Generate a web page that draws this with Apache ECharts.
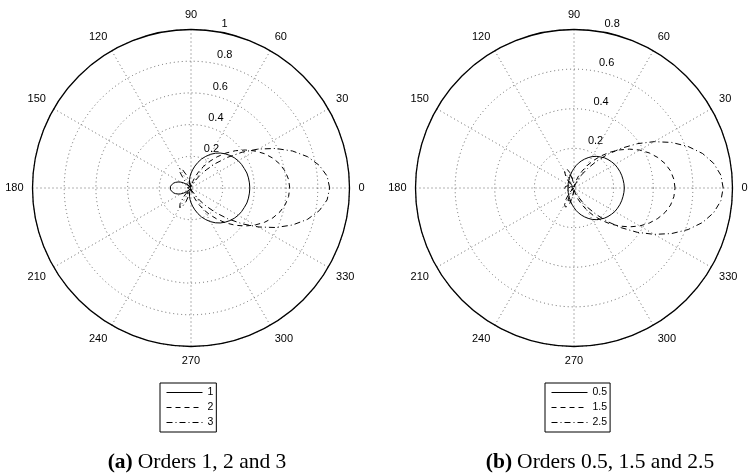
<!DOCTYPE html>
<html><head><meta charset="utf-8">
<script src="https://cdn.jsdelivr.net/npm/echarts@6/dist/echarts.min.js"></script>
<style>html,body{margin:0;padding:0;background:#fff}#c{width:748px;height:474px}</style>
</head><body><div id="c"></div>
<script>
// angle (degrees) of every sample
const ANGLES = [0,5,10,15,20,25,30,35,40,45,50,55,60,65,70,75,80,85,90,95,100,105,110,115,120,125,130,135,140,145,150,155,160,165,170,175,180,
  185,190,195,200,205,210,215,220,225,230,235,240,245,250,255,260,265,270,275,280,285,290,295,300,305,310,315,320,325,330,335,340,345,350,355,360];

// (a) orders 1, 2, 3
const ORDERS_A = ['1','2','3'];
const A_ORDER1 = [0.371,0.370,0.368,0.365,0.358,0.352,0.344,0.333,0.320,0.305,0.288,0.268,0.245,0.220,0.195,0.167,0.140,0.115,0.093,0.072,0.053,0.036,0.022,0.011,0.004,0.002,0.008,0.020,0.036,0.055,0.074,0.090,0.104,0.116,0.125,0.130,0.132,
  0.130,0.125,0.116,0.104,0.090,0.074,0.055,0.036,0.020,0.008,0.002,0.004,0.011,0.022,0.036,0.053,0.072,0.093,0.115,0.140,0.167,0.195,0.220,0.245,0.268,0.288,0.305,0.320,0.333,0.344,0.352,0.358,0.365,0.368,0.370,0.371];
const A_ORDER2 = [0.623,0.618,0.604,0.581,0.550,0.512,0.467,0.418,0.366,0.312,0.257,0.205,0.156,0.111,0.073,0.042,0.019,0.006,0.002,0.006,0.014,0.024,0.034,0.040,0.042,0.038,0.030,0.020,0.010,0.004,0.002,0.004,0.010,0.016,0.020,0.023,0.024,
  0.023,0.020,0.016,0.010,0.004,0.002,0.004,0.010,0.020,0.030,0.038,0.042,0.040,0.034,0.024,0.014,0.006,0.002,0.006,0.019,0.042,0.073,0.111,0.156,0.205,0.257,0.312,0.366,0.418,0.467,0.512,0.550,0.581,0.604,0.618,0.623];
const A_ORDER3 = [0.875,0.862,0.822,0.762,0.682,0.590,0.492,0.394,0.301,0.219,0.149,0.095,0.055,0.028,0.012,0.004,0.002,0.000,0.002,0.004,0.010,0.040,0.090,0.130,0.142,0.120,0.070,0.025,0.004,0.002,0.006,0.012,0.018,0.022,0.025,0.027,0.028,
  0.027,0.025,0.022,0.018,0.012,0.006,0.002,0.004,0.025,0.070,0.120,0.142,0.130,0.090,0.040,0.010,0.004,0.002,0.000,0.002,0.004,0.012,0.028,0.055,0.095,0.149,0.219,0.301,0.394,0.492,0.590,0.682,0.762,0.822,0.862,0.875];

// (b) orders 0.5, 1.5, 2.5
const ORDERS_B = ['0.5','1.5','2.5'];
const B_ORDER05 = [0.254,0.253,0.251,0.249,0.246,0.242,0.238,0.231,0.224,0.216,0.205,0.195,0.183,0.169,0.155,0.141,0.127,0.113,0.099,0.088,0.077,0.068,0.061,0.055,0.050,0.046,0.043,0.040,0.038,0.036,0.034,0.033,0.032,0.031,0.030,0.030,0.030,
  0.030,0.030,0.031,0.032,0.033,0.034,0.036,0.038,0.040,0.043,0.046,0.050,0.055,0.061,0.068,0.077,0.088,0.099,0.113,0.127,0.141,0.155,0.169,0.183,0.195,0.205,0.216,0.224,0.231,0.238,0.242,0.246,0.249,0.251,0.253,0.254];
const B_ORDER15 = [0.510,0.506,0.495,0.476,0.450,0.419,0.383,0.342,0.299,0.255,0.211,0.168,0.128,0.091,0.060,0.034,0.015,0.004,0.002,0.015,0.045,0.080,0.100,0.105,0.095,0.072,0.045,0.022,0.008,0.003,0.006,0.012,0.018,0.022,0.025,0.027,0.028,
  0.027,0.025,0.022,0.018,0.012,0.006,0.003,0.008,0.022,0.045,0.072,0.095,0.105,0.100,0.080,0.045,0.015,0.002,0.004,0.015,0.034,0.060,0.091,0.128,0.168,0.211,0.255,0.299,0.342,0.383,0.419,0.450,0.476,0.495,0.506,0.510];
const B_ORDER25 = [0.753,0.744,0.716,0.672,0.613,0.544,0.468,0.390,0.312,0.240,0.175,0.120,0.076,0.044,0.022,0.009,0.003,0.004,0.012,0.028,0.050,0.068,0.075,0.070,0.055,0.035,0.018,0.007,0.002,0.006,0.015,0.025,0.033,0.040,0.044,0.047,0.048,
  0.047,0.044,0.040,0.033,0.025,0.015,0.006,0.002,0.007,0.018,0.035,0.055,0.070,0.075,0.068,0.050,0.028,0.012,0.004,0.003,0.009,0.022,0.044,0.076,0.120,0.175,0.240,0.312,0.390,0.468,0.544,0.613,0.672,0.716,0.744,0.753];

const RMAX_A = 1, RMAX_B = 0.8, R_STEP = 0.2;
const CAPTION_A = ['(a)', 'Orders 1, 2 and 3'];
const CAPTION_B = ['(b)', 'Orders 0.5, 1.5 and 2.5'];

const FONT = '"Liberation Sans", Arial, Helvetica, sans-serif';
const SERIF = '"Liberation Serif", "Times New Roman", serif';
const GRID = {color:'#666', width:1, type:[1,3]};
const DASH = {solid:'solid', dashed:[5,4], dashdot:[6,3,1,3]};

function pairs(rs){ return rs.map((r,i)=>[r, ANGLES[i]]); }

function gridAngle(pi){
  return {polarIndex:pi, type:'value', min:0, max:360, interval:30, startAngle:0, clockwise:false,
    axisLine:{show:true, lineStyle:{color:'#000', width:1.3}}, axisTick:{show:false},
    axisLabel:{margin:9, color:'#000', fontSize:11, fontFamily:FONT},
    splitLine:{show:true, lineStyle:GRID}};
}
function labelAngle(pi){
  return {polarIndex:pi, type:'value', min:0, max:360, startAngle:82, clockwise:false, show:false};
}
function gridRadius(pi, max){
  return {polarIndex:pi, type:'value', min:0, max:max, interval:R_STEP,
    axisLine:{show:false}, axisTick:{show:false}, axisLabel:{show:false},
    splitLine:{show:true, lineStyle:GRID}};
}
function labelRadius(pi, max){
  return {polarIndex:pi, type:'value', min:0, max:max, interval:R_STEP,
    axisLine:{show:false}, axisTick:{show:false}, splitLine:{show:false},
    axisLabel:{show:true, margin:-8.5, align:'left', verticalAlign:'bottom', padding:[0,0,3,0],
      color:'#000', fontSize:11, fontFamily:FONT,
      formatter:v=> v===0 ? '' : String(parseFloat(v.toFixed(2)))}};
}
function line(name, pi, rs, type){
  return {type:'line', name:name, coordinateSystem:'polar', polarIndex:pi, data:pairs(rs),
    symbol:'none', silent:true, lineStyle:{color:'#000', width:1, type:type}, itemStyle:{color:'#000'}, z:5};
}
function legend(names, left, top){
  return {data:names, orient:'vertical', left:left, top:top, itemWidth:36, itemHeight:12, itemGap:4,
    padding:[4,3,4,6], borderColor:'#000', borderWidth:1, backgroundColor:'#fff',
    itemStyle:{opacity:0}, lineStyle:{width:1},
    textStyle:{color:'#000', fontSize:10.5, fontFamily:FONT}, selectedMode:false};
}
function caption(parts, cx){
  return {text:'{b|'+parts[0]+'} {n|'+parts[1]+'}', left:cx, top:446, textAlign:'center',
    textStyle:{fontWeight:'normal', rich:{b:{fontFamily:SERIF, fontWeight:'bold', fontSize:21.5, color:'#000'},
                     n:{fontFamily:SERIF, fontWeight:'normal', fontSize:21.5, color:'#000'}}}};
}

const chart = echarts.init(document.getElementById('c'), null, {renderer:'canvas'});
chart.setOption({
  animation:false,
  backgroundColor:'#fff',
  title:[caption(CAPTION_A, 192), caption(CAPTION_B, 595)],
  polar:[
    {center:[191,188], radius:158.5},
    {center:[191,188], radius:158.5},
    {center:[574,188], radius:158.5},
    {center:[574,188], radius:158.5}
  ],
  angleAxis:[gridAngle(0), labelAngle(1), gridAngle(2), labelAngle(3)],
  radiusAxis:[gridRadius(0,RMAX_A), labelRadius(1,RMAX_A), gridRadius(2,RMAX_B), labelRadius(3,RMAX_B)],
  legend:[legend(ORDERS_A, 160, 383), legend(ORDERS_B, 545, 383)],
  series:[
    line(ORDERS_A[0], 0, A_ORDER1, DASH.solid),
    line(ORDERS_A[1], 0, A_ORDER2, DASH.dashed),
    line(ORDERS_A[2], 0, A_ORDER3, DASH.dashdot),
    line(ORDERS_B[0], 2, B_ORDER05, DASH.solid),
    line(ORDERS_B[1], 2, B_ORDER15, DASH.dashed),
    line(ORDERS_B[2], 2, B_ORDER25, DASH.dashdot)
  ]
});
</script></body></html>
